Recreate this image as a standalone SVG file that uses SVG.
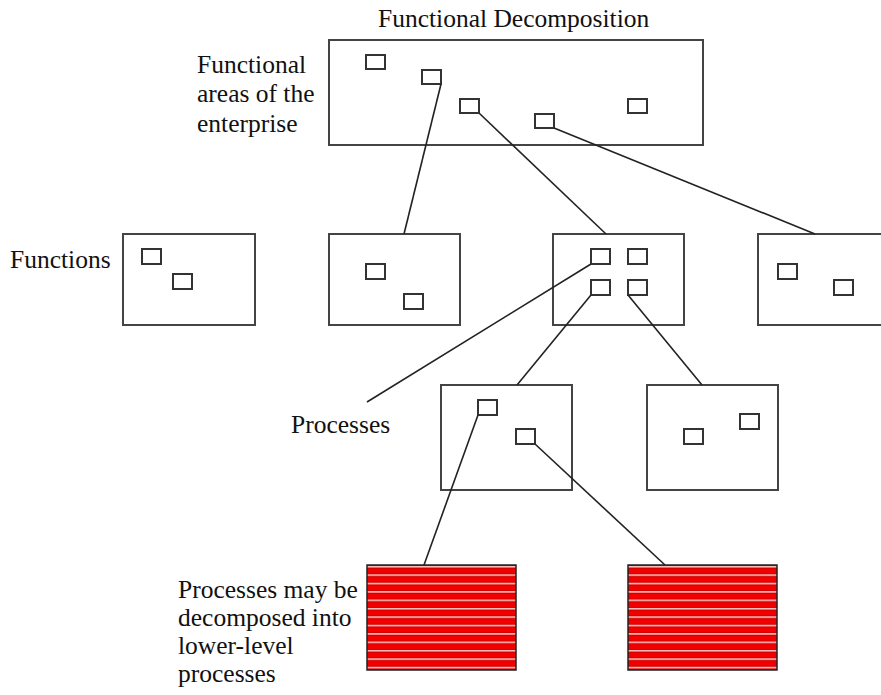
<svg xmlns="http://www.w3.org/2000/svg" width="881" height="695" viewBox="0 0 881 695">
<style>
.box{fill:#fff;stroke:#444;stroke-width:2}
.sq{fill:#fff;stroke:#333;stroke-width:2}
.t{font-family:"Liberation Serif",serif;font-size:25.5px;fill:#111}
.c{stroke:#222;stroke-width:1.6;fill:none}
.red{fill:url(#stripes);stroke:#222;stroke-width:1.5}
</style>
<defs>
<pattern id="stripes" patternUnits="userSpaceOnUse" x="0" y="565" width="10" height="8.4">
<rect width="10" height="8.4" fill="#f20000"/>
<rect y="0" width="10" height="1" fill="#cc0000"/>
<rect y="1" width="10" height="1.6" fill="#ffd0d0"/>
<rect y="2.6" width="10" height="1" fill="#cc0000"/>
</pattern>
</defs>
<rect width="881" height="695" fill="#fff"/>
<text class="t" x="378" y="27">Functional Decomposition</text>
<g id="labels">
<text class="t" x="197" y="73">Functional</text>
<text class="t" x="197" y="102">areas of the</text>
<text class="t" x="197" y="132">enterprise</text>
<text class="t" x="10" y="268">Functions</text>
<text class="t" x="291" y="433">Processes</text>
<text class="t" x="178" y="598">Processes may be</text>
<text class="t" x="178" y="626">decomposed into</text>
<text class="t" x="178" y="654">lower-level</text>
<text class="t" x="178" y="682">processes</text>
</g>
<g id="enterprise">
<rect class="box" x="329" y="40" width="374" height="105"/>
<rect class="sq" x="366" y="55" width="19" height="14"/>
<rect class="sq" x="422" y="70" width="19" height="14"/>
<rect class="sq" x="460" y="99" width="19" height="14"/>
<rect class="sq" x="535" y="114" width="19" height="14"/>
<rect class="sq" x="628" y="99" width="19" height="14"/>
</g>
<g id="function1">
<rect class="box" x="123" y="234" width="132" height="91"/>
<rect class="sq" x="142" y="249" width="19" height="15"/>
<rect class="sq" x="173" y="274" width="19" height="15"/>
</g>
<g id="function2">
<rect class="box" x="329" y="234" width="131" height="91"/>
<rect class="sq" x="366" y="264" width="19" height="15"/>
<rect class="sq" x="404" y="294" width="19" height="15"/>
</g>
<g id="function3">
<rect class="box" x="553" y="234" width="131" height="91"/>
<rect class="sq" x="591" y="249" width="19" height="15"/>
<rect class="sq" x="628" y="249" width="19" height="15"/>
<rect class="sq" x="591" y="280" width="19" height="15"/>
<rect class="sq" x="628" y="280" width="19" height="15"/>
</g>
<g id="function4">
<rect class="box" x="758" y="234" width="130" height="91"/>
<rect class="sq" x="778" y="264" width="19" height="15"/>
<rect class="sq" x="834" y="280" width="19" height="15"/>
</g>
<g id="process1">
<rect class="box" x="441" y="385" width="131" height="105"/>
<rect class="sq" x="478" y="400" width="19" height="15"/>
<rect class="sq" x="516" y="429" width="19" height="15"/>
</g>
<g id="process2">
<rect class="box" x="647" y="385" width="131" height="105"/>
<rect class="sq" x="684" y="429" width="19" height="15"/>
<rect class="sq" x="740" y="414" width="19" height="15"/>
</g>
<g id="subprocess1">
<rect class="red" x="367" y="565" width="149" height="105"/>
</g>
<g id="subprocess2">
<rect class="red" x="628" y="565" width="149" height="105"/>
</g>
<g id="connectors">
<line class="c" x1="441" y1="84" x2="404" y2="234"/>
<line class="c" x1="479" y1="113" x2="606" y2="234"/>
<line class="c" x1="554" y1="128" x2="815" y2="234"/>
<line class="c" x1="591" y1="264" x2="367" y2="402"/>
<line class="c" x1="591" y1="295" x2="517" y2="385"/>
<line class="c" x1="628" y1="295" x2="702" y2="385"/>
<line class="c" x1="478" y1="415" x2="424" y2="565"/>
<line class="c" x1="535" y1="444" x2="665" y2="565"/>
</g>
</svg>
